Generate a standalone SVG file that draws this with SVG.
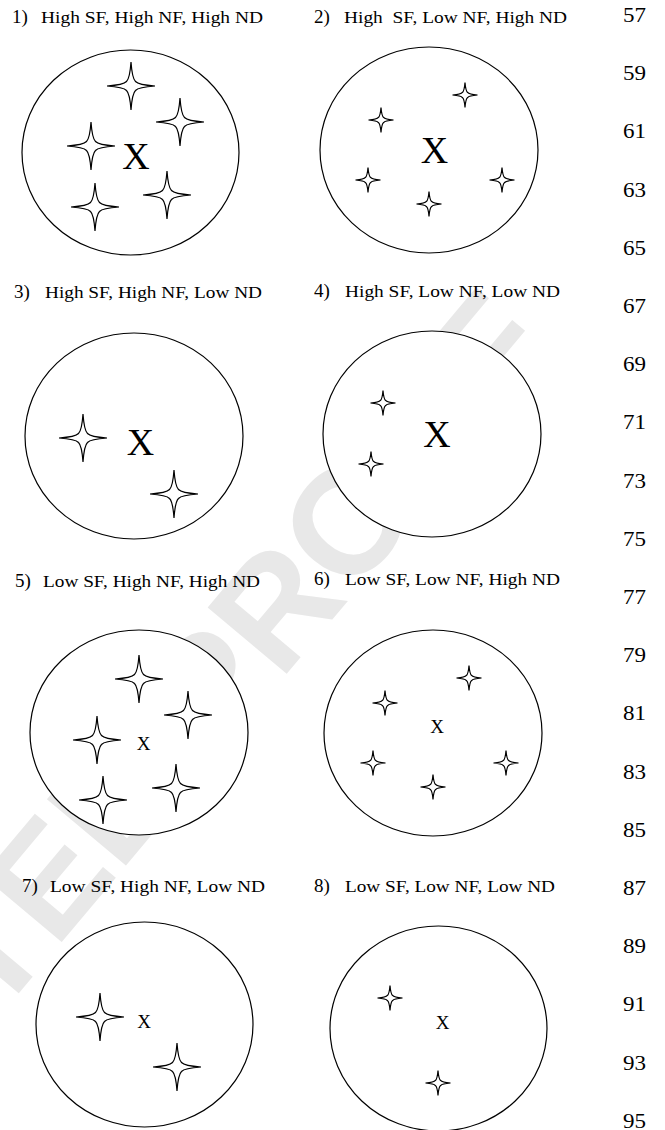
<svg xmlns="http://www.w3.org/2000/svg" xmlns:xlink="http://www.w3.org/1999/xlink" width="665" height="1130" viewBox="0 0 665 1130">
<style>
.wm{font-family:"Liberation Sans",Arial,sans-serif;font-weight:bold;font-size:150px;fill:#e8e8e8}
.ell{fill:#fff;stroke:#000;stroke-width:1.2}
.st{fill:#fff;stroke:#000;stroke-width:1.2;stroke-linejoin:miter}
.serif{font-family:"Liberation Serif","Times New Roman",Times,serif;fill:#000}
.num{font-size:19px}
.lab{font-size:16.5px;white-space:pre}
.bx{font-size:38px;text-anchor:middle}
.sx{font-size:19px;text-anchor:middle}
.ln{font-size:20px}
</style>
<defs>
<path id="bigstar" class="st" d="M0,-24 Q1.2,-7.5 4.5,-4.5 Q7.5,-1.2 24,0 Q7.5,1.2 4.5,4.5 Q1.2,7.5 0,24 Q-1.2,7.5 -4.5,4.5 Q-7.5,1.2 -24,0 Q-7.5,-1.2 -4.5,-4.5 Q-1.2,-7.5 0,-24 Z"/>
<path id="smallstar" class="st" d="M0,-12.5 Q0.7,-4 2.6,-2.6 Q4,-0.7 12.5,0 Q4,0.7 2.6,2.6 Q0.7,4 0,12.5 Q-0.7,4 -2.6,2.6 Q-4,0.7 -12.5,0 Q-4,-0.7 -2.6,-2.6 Q-0.7,-4 0,-12.5 Z"/>
</defs>
<rect width="665" height="1130" fill="#fff"/>
<g id="watermark">
<text class="wm" transform="translate(55,950) rotate(-50)" x="-958" y="0">UNCORRECTED PROOF</text>
</g>
<g id="line-numbers" class="serif">
<text class="ln" x="623" y="22" textLength="23" lengthAdjust="spacingAndGlyphs">57</text>
<text class="ln" x="623" y="80" textLength="23" lengthAdjust="spacingAndGlyphs">59</text>
<text class="ln" x="623" y="138" textLength="23" lengthAdjust="spacingAndGlyphs">61</text>
<text class="ln" x="623" y="197" textLength="23" lengthAdjust="spacingAndGlyphs">63</text>
<text class="ln" x="623" y="255" textLength="23" lengthAdjust="spacingAndGlyphs">65</text>
<text class="ln" x="623" y="313" textLength="23" lengthAdjust="spacingAndGlyphs">67</text>
<text class="ln" x="623" y="371" textLength="23" lengthAdjust="spacingAndGlyphs">69</text>
<text class="ln" x="623" y="429" textLength="23" lengthAdjust="spacingAndGlyphs">71</text>
<text class="ln" x="623" y="488" textLength="23" lengthAdjust="spacingAndGlyphs">73</text>
<text class="ln" x="623" y="546" textLength="23" lengthAdjust="spacingAndGlyphs">75</text>
<text class="ln" x="623" y="604" textLength="23" lengthAdjust="spacingAndGlyphs">77</text>
<text class="ln" x="623" y="662" textLength="23" lengthAdjust="spacingAndGlyphs">79</text>
<text class="ln" x="623" y="720" textLength="23" lengthAdjust="spacingAndGlyphs">81</text>
<text class="ln" x="623" y="779" textLength="23" lengthAdjust="spacingAndGlyphs">83</text>
<text class="ln" x="623" y="837" textLength="23" lengthAdjust="spacingAndGlyphs">85</text>
<text class="ln" x="623" y="895" textLength="23" lengthAdjust="spacingAndGlyphs">87</text>
<text class="ln" x="623" y="953" textLength="23" lengthAdjust="spacingAndGlyphs">89</text>
<text class="ln" x="623" y="1011" textLength="23" lengthAdjust="spacingAndGlyphs">91</text>
<text class="ln" x="623" y="1070" textLength="23" lengthAdjust="spacingAndGlyphs">93</text>
<text class="ln" x="623" y="1128" textLength="23" lengthAdjust="spacingAndGlyphs">95</text>
</g>
<g id="panel1" class="serif">
<text class="num" x="12" y="23">1)</text>
<text class="lab" x="41" y="23" textLength="222" lengthAdjust="spacingAndGlyphs">High SF, High NF, High ND</text>
<ellipse class="ell" cx="130.5" cy="152.5" rx="108.5" ry="102.5"/>
<use xlink:href="#bigstar" x="131" y="86"/>
<use xlink:href="#bigstar" x="180" y="122"/>
<use xlink:href="#bigstar" x="91" y="146"/>
<use xlink:href="#bigstar" x="95" y="207"/>
<use xlink:href="#bigstar" x="167" y="195"/>
<text class="bx" x="136" y="169">X</text>
</g>
<g id="panel2" class="serif">
<text class="num" x="314" y="23">2)</text>
<text class="lab" x="344" y="23" textLength="223" lengthAdjust="spacingAndGlyphs" xml:space="preserve">High  SF, Low NF, High ND</text>
<ellipse class="ell" cx="429" cy="150" rx="109" ry="103"/>
<use xlink:href="#smallstar" x="465" y="95"/>
<use xlink:href="#smallstar" x="381" y="120"/>
<use xlink:href="#smallstar" x="368" y="180"/>
<use xlink:href="#smallstar" x="429" y="204"/>
<use xlink:href="#smallstar" x="502" y="180"/>
<text class="bx" x="434.5" y="163">X</text>
</g>
<g id="panel3" class="serif">
<text class="num" x="14" y="298">3)</text>
<text class="lab" x="45" y="298" textLength="217" lengthAdjust="spacingAndGlyphs">High SF, High NF, Low ND</text>
<ellipse class="ell" cx="134" cy="436" rx="109" ry="103"/>
<use xlink:href="#bigstar" x="83" y="438"/>
<use xlink:href="#bigstar" x="174" y="494"/>
<text class="bx" x="140.5" y="455">X</text>
</g>
<g id="panel4" class="serif">
<text class="num" x="314" y="297">4)</text>
<text class="lab" x="345" y="297" textLength="215" lengthAdjust="spacingAndGlyphs">High SF, Low NF, Low ND</text>
<ellipse class="ell" cx="432" cy="434" rx="109" ry="103"/>
<use xlink:href="#smallstar" x="383" y="403"/>
<use xlink:href="#smallstar" x="371" y="464"/>
<text class="bx" x="437" y="447">X</text>
</g>
<g id="panel5" class="serif">
<text class="num" x="15" y="587">5)</text>
<text class="lab" x="43" y="587" textLength="217" lengthAdjust="spacingAndGlyphs">Low SF, High NF, High ND</text>
<ellipse class="ell" cx="139" cy="732.5" rx="109" ry="102.5"/>
<use xlink:href="#bigstar" x="139" y="679"/>
<use xlink:href="#bigstar" x="188" y="715"/>
<use xlink:href="#bigstar" x="97" y="740"/>
<use xlink:href="#bigstar" x="103" y="800"/>
<use xlink:href="#bigstar" x="176" y="788"/>
<text class="sx" x="143.5" y="750">X</text>
</g>
<g id="panel6" class="serif">
<text class="num" x="314" y="585">6)</text>
<text class="lab" x="345" y="585" textLength="215" lengthAdjust="spacingAndGlyphs">Low SF, Low NF, High ND</text>
<ellipse class="ell" cx="433" cy="733" rx="109" ry="103"/>
<use xlink:href="#smallstar" x="469" y="678"/>
<use xlink:href="#smallstar" x="385" y="703"/>
<use xlink:href="#smallstar" x="373" y="763"/>
<use xlink:href="#smallstar" x="433" y="787"/>
<use xlink:href="#smallstar" x="506" y="763"/>
<text class="sx" x="437" y="733">X</text>
</g>
<g id="panel7" class="serif">
<text class="num" x="22" y="892">7)</text>
<text class="lab" x="50" y="892" textLength="215" lengthAdjust="spacingAndGlyphs">Low SF, High NF, Low ND</text>
<ellipse class="ell" cx="144.5" cy="1024.5" rx="108.5" ry="102.5"/>
<use xlink:href="#bigstar" x="100" y="1017"/>
<use xlink:href="#bigstar" x="177" y="1067"/>
<text class="sx" x="144" y="1028">X</text>
</g>
<g id="panel8" class="serif">
<text class="num" x="314" y="892">8)</text>
<text class="lab" x="345" y="892" textLength="210" lengthAdjust="spacingAndGlyphs">Low SF, Low NF, Low ND</text>
<ellipse class="ell" cx="438.5" cy="1028.5" rx="108.5" ry="102.5"/>
<use xlink:href="#smallstar" x="390" y="998"/>
<use xlink:href="#smallstar" x="438" y="1083"/>
<text class="sx" x="442.5" y="1029">X</text>
</g>
<g id="connectors"/>
</svg>
